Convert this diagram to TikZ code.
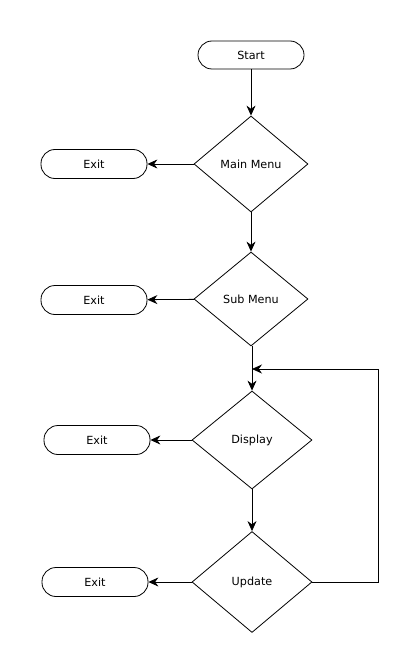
\documentclass[tikz,border=0pt]{standalone}
\usepackage{fontspec}
\setmainfont{DejaVu Sans}
\usepackage{tikz}
\usetikzlibrary{shapes.geometric,arrows.meta}

\begin{document}
\begin{tikzpicture}[x=1pt, y=-1pt, line width=0.8pt, font=\fontsize{11.2}{13}\selectfont,
		terminal/.style={draw, rectangle, rounded corners=14pt, minimum width=106pt, minimum height=29pt, inner sep=0pt},
		choice/.style={draw, diamond, inner sep=0pt},
		flow/.style={-{Stealth[length=10pt, width=9pt]}}]
		\useasboundingbox (0, 0) rectangle (404, 663);
		\node (start) at (251, 55) [terminal, minimum height=28pt] {Start};
		\node (main-menu) at (251, 164) [choice, minimum width=114pt, minimum height=96pt] {Main Menu};
		\node (sub-menu) at (251, 299) [choice, minimum width=114pt, minimum height=94pt] {Sub Menu};
		\node (display) at (252, 440) [choice, minimum width=120pt, minimum height=98pt] {Display};
		\node (update) at (252, 582) [choice, minimum width=120pt, minimum height=101pt] {Update};
		\node (exit-main) at (94, 164) [terminal] {Exit};
		\node (exit-sub) at (94, 300) [terminal] {Exit};
		\node (exit-display) at (97, 440) [terminal] {Exit};
		\node (exit-update) at (95, 582) [terminal] {Exit};
		\coordinate (join) at (252, 369);
		\coordinate (loop-corner) at (378, 369);
		
		\draw[flow] (start) -- (main-menu);
		\draw[flow] (main-menu) -- (sub-menu);
		\draw[flow] (sub-menu.south) ++(1, 0) -- (display.north);
		\draw[flow] (display) -- (update);
		\draw[flow] (main-menu) -- (exit-main);
		\draw[flow] (sub-menu) -- (exit-sub);
		\draw[flow] (display) -- (exit-display);
		\draw[flow] (update) -- (exit-update);
		\draw[flow] (update.east) -| (loop-corner) -- (join);
		
	\end{tikzpicture}
\end{document}
